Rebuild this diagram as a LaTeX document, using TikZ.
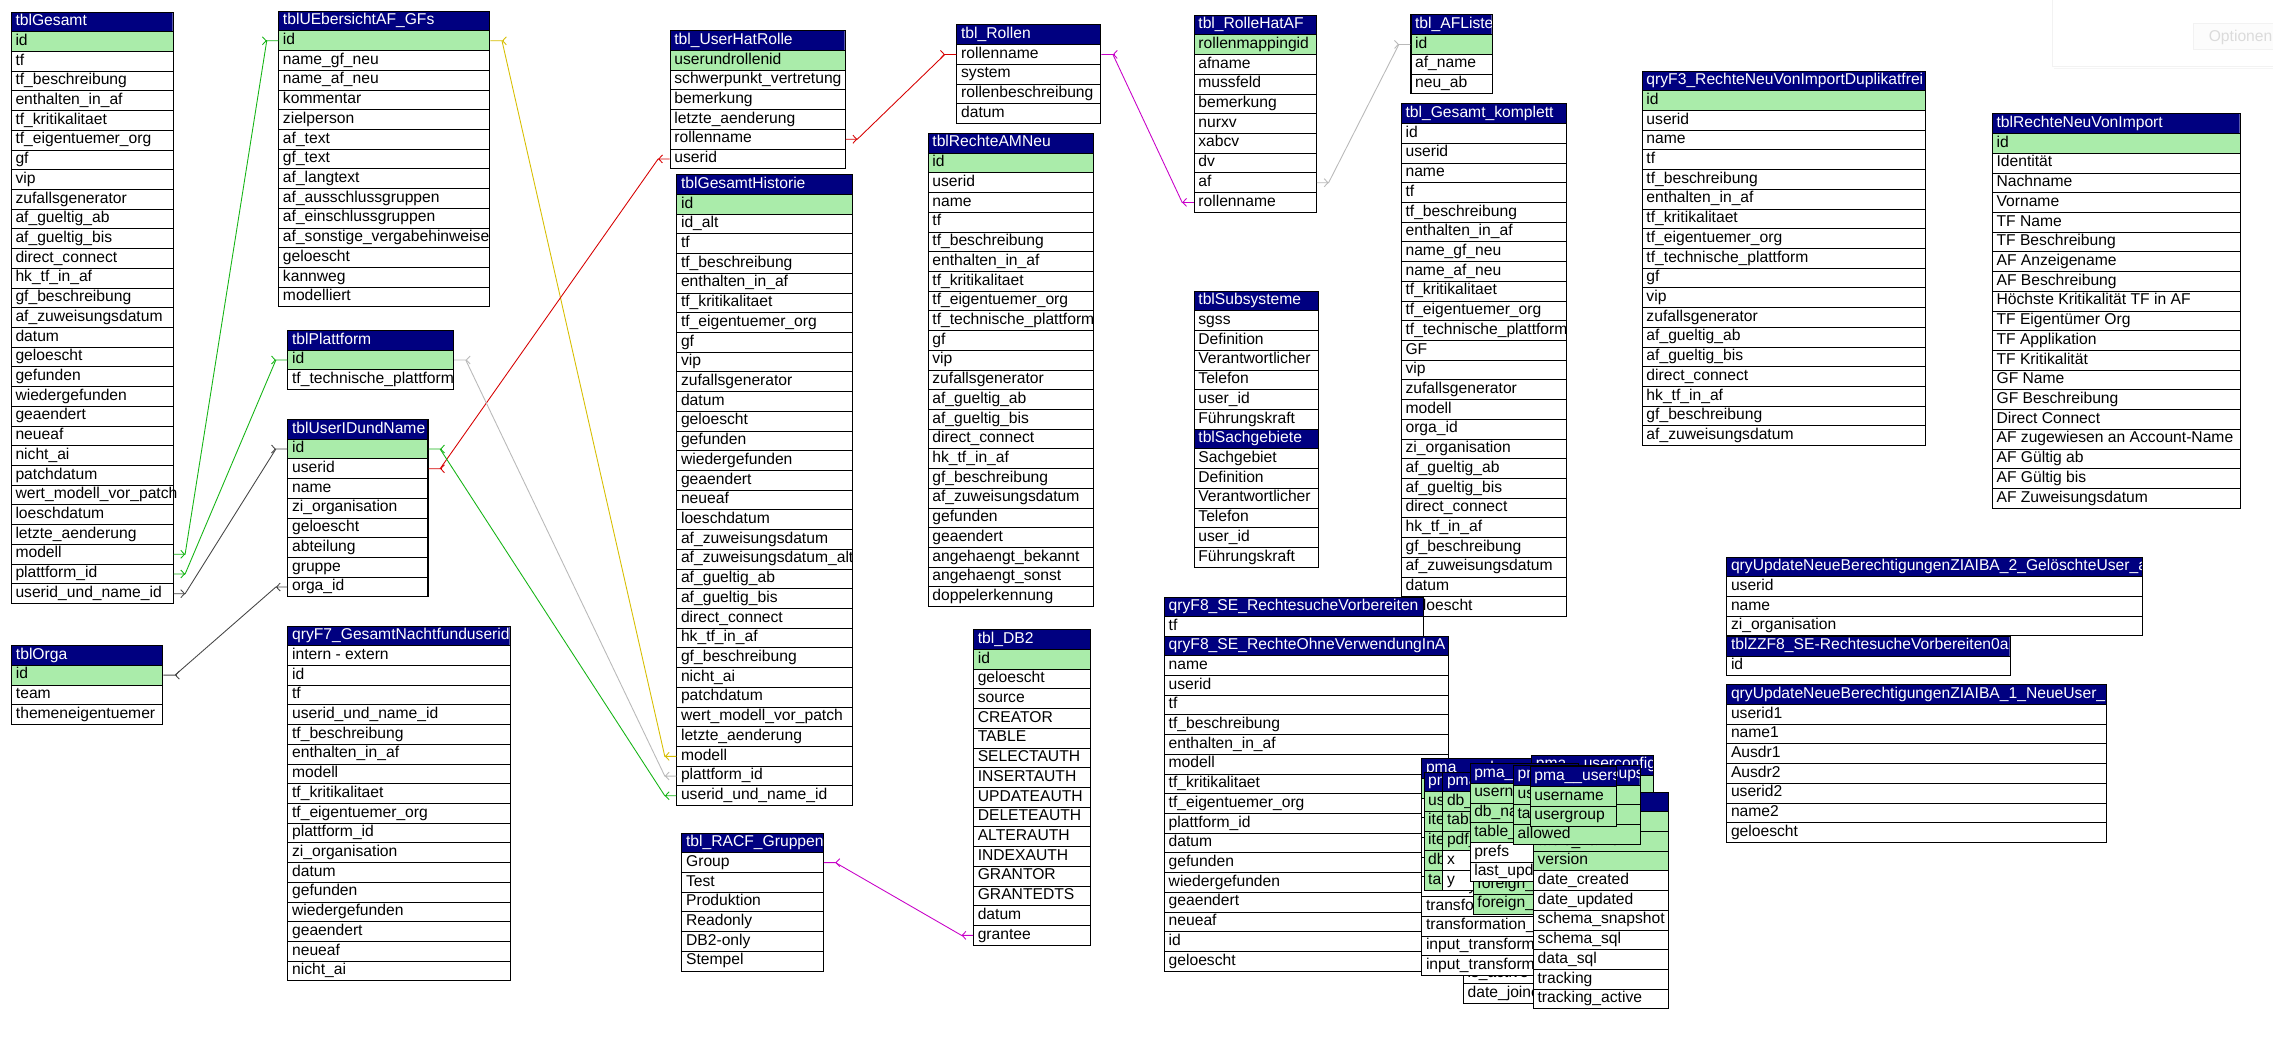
\documentclass[tikz,border=0pt]{standalone}
\usepackage{fontspec}
\setmainfont{Liberation Sans}
\usetikzlibrary{calc,arrows.meta}
\definecolor{hdr}{RGB}{0,0,128}
\definecolor{pk}{RGB}{170,236,170}
\definecolor{cgreen}{RGB}{20,180,20}
\definecolor{cdgrey}{RGB}{70,70,70}
\definecolor{cyellow}{RGB}{215,190,0}
\definecolor{cred}{RGB}{215,0,0}
\definecolor{clgrey}{RGB}{185,185,185}
\definecolor{cmag}{RGB}{200,0,200}
\tikzset{
  rowbox/.style={draw=black, line width=0.7pt, inner sep=0pt, minimum height=13.6pt, anchor=north west, fill=white},
  celltext/.style={inner sep=0pt, anchor=base west, font=\fontsize{10.8}{12}\selectfont, text=black},
  hdrtext/.style={celltext, text=white},
  link/.style={line width=0.6pt},
  chev/.style={line width=0.6pt, -{Straight Barb[length=2.6pt,width=5.5pt]}},
}
\newcommand\dbtab[7]{%
  \begin{scope}
    \clip (#2,-#3) rectangle ++(#4,-13.6);
    \fill[hdr] (#2,-#3) rectangle ++(#4,-13.6);
    \node[hdrtext] at (#2+3,-#3-9.7) {\detokenize{#5}};
  \end{scope}
  \node[rowbox, fill=none, minimum width=#4pt] (#1-0) at (#2,-#3) {};
  \foreach \rowtxt [count=\i] in {#7}{%
    \ifnum\i>#6\relax\def\rowfill{white}\else\def\rowfill{pk}\fi
    \node[rowbox, fill=\rowfill, minimum width=#4pt] (#1-\i) at (#2,-#3-\i*13.6) {};
    \node[celltext] at ($(#1-\i.north west)+(3,-9.7)$) {\expandafter\detokenize\expandafter{\rowtxt}};
  }%
}
\newcommand\conn[7]{%
  \draw[link,#1] (#2.#3) -- ++(#4*8,0) coordinate (cA) -- ($(#5.#6)+(#7*8,0)$) coordinate (cB) -- (#5.#6);
  \draw[chev,#1] ($(cA)-(#4*0.5,0)$) -- (cA);
  \draw[chev,#1] ($(cB)+(#7*0.5,0)$) -- (cB);
}
\begin{document}
\begin{tikzpicture}[x=1pt,y=1pt]
\useasboundingbox (0,0) rectangle (1568,-729.2);
\clip (0,0) rectangle (1568,-729.2);
\fill[white] (0,0) rectangle (1568,-729.2);
% top right options panel
\draw[gray!10, line width=0.8pt, fill=white] (1416,2) rectangle (1575,-46);
\draw[gray!8, line width=0.6pt] (1417,-47) -- (1575,-47);
\draw[gray!10, line width=0.6pt, fill=gray!2] (1513,-16) rectangle (1575,-34);
\node[celltext, text=gray!28] (opt) at (1523.5,-28.3) {Optionen};

\dbtab{gesamt}{7.5}{8.0}{111.5}{tblGesamt}{1}{id,tf,tf_beschreibung,enthalten_in_af,tf_kritikalitaet,tf_eigentuemer_org,gf,vip,zufallsgenerator,af_gueltig_ab,af_gueltig_bis,direct_connect,hk_tf_in_af,gf_beschreibung,af_zuweisungsdatum,datum,geloescht,gefunden,wiedergefunden,geaendert,neueaf,nicht_ai,patchdatum,wert_modell_vor_patch,loeschdatum,letzte_aenderung,modell,plattform_id,userid_und_name_id}
\dbtab{uebers}{192}{7.4}{145.6}{tblUEbersichtAF_GFs}{1}{id,name_gf_neu,name_af_neu,kommentar,zielperson,af_text,gf_text,af_langtext,af_ausschlussgruppen,af_einschlussgruppen,af_sonstige_vergabehinweise,geloescht,kannweg,modelliert}
\dbtab{plattform}{198.3}{227.6}{114.3}{tblPlattform}{1}{id,tf_technische_plattform}
\dbtab{useridn}{198.3}{289}{96.6}{tblUserIDundName}{1}{id,userid,name,zi_organisation,geloescht,abteilung,gruppe,orga_id}
\dbtab{orga}{7.8}{445}{104.2}{tblOrga}{1}{id,team,themeneigentuemer}
\dbtab{qf7}{198.3}{431.5}{153.2}{qryF7_GesamtNachtfunduserid}{0}{intern - extern,id,tf,userid_und_name_id,tf_beschreibung,enthalten_in_af,modell,tf_kritikalitaet,tf_eigentuemer_org,plattform_id,zi_organisation,datum,gefunden,wiedergefunden,geaendert,neueaf,nicht_ai}
\dbtab{uhr}{462}{20.9}{120.7}{tbl_UserHatRolle}{1}{userundrollenid,schwerpunkt_vertretung,bemerkung,letzte_aenderung,rollenname,userid}
\dbtab{hist}{466.6}{120.2}{121.3}{tblGesamtHistorie}{1}{id,id_alt,tf,tf_beschreibung,enthalten_in_af,tf_kritikalitaet,tf_eigentuemer_org,gf,vip,zufallsgenerator,datum,geloescht,gefunden,wiedergefunden,geaendert,neueaf,loeschdatum,af_zuweisungsdatum,af_zuweisungsdatum_alt,af_gueltig_ab,af_gueltig_bis,direct_connect,hk_tf_in_af,gf_beschreibung,nicht_ai,patchdatum,wert_modell_vor_patch,letzte_aenderung,modell,plattform_id,userid_und_name_id}
\dbtab{rollen}{659.8}{16.8}{99.2}{tbl_Rollen}{0}{rollenname,system,rollenbeschreibung,datum}
\dbtab{ramneu}{640}{91.7}{114}{tblRechteAMNeu}{1}{id,userid,name,tf,tf_beschreibung,enthalten_in_af,tf_kritikalitaet,tf_eigentuemer_org,tf_technische_plattform,gf,vip,zufallsgenerator,af_gueltig_ab,af_gueltig_bis,direct_connect,hk_tf_in_af,gf_beschreibung,af_zuweisungsdatum,gefunden,geaendert,angehaengt_bekannt,angehaengt_sonst,doppelerkennung}
\dbtab{db2}{671.3}{434.1}{80.9}{tbl_DB2}{1}{id,geloescht,source,CREATOR,TABLE,SELECTAUTH,INSERTAUTH,UPDATEAUTH,DELETEAUTH,ALTERAUTH,INDEXAUTH,GRANTOR,GRANTEDTS,datum,grantee}
\dbtab{racf}{470.1}{574.3}{97.5}{tbl_RACF_Gruppen}{0}{Group,Test,Produktion,Readonly,DB2-only,Stempel}
\dbtab{rhaf}{823.5}{10.1}{84.3}{tbl_RolleHatAF}{1}{rollenmappingid,afname,mussfeld,bemerkung,nurxv,xabcv,dv,af,rollenname}
\dbtab{afl}{973}{9.9}{56}{tbl_AFListe}{1}{id,af_name,neu_ab}
\dbtab{subs}{823.5}{200.5}{86}{tblSubsysteme}{0}{sgss,Definition,Verantwortlicher,Telefon,user_id,Führungskraft}
\dbtab{sach}{823.5}{295.7}{86}{tblSachgebiete}{0}{Sachgebiet,Definition,Verantwortlicher,Telefon,user_id,Führungskraft}
\dbtab{gk}{966.4}{71.3}{114.2}{tbl_Gesamt_komplett}{0}{id,userid,name,tf,tf_beschreibung,enthalten_in_af,name_gf_neu,name_af_neu,tf_kritikalitaet,tf_eigentuemer_org,tf_technische_plattform,GF,vip,zufallsgenerator,modell,orga_id,zi_organisation,af_gueltig_ab,af_gueltig_bis,direct_connect,hk_tf_in_af,gf_beschreibung,af_zuweisungsdatum,datum,geloescht}
\dbtab{qfa}{803}{411.5}{178.6}{qryF8_SE_RechtesucheVorbereiten}{0}{tf}
\dbtab{qfb}{803}{438.4}{196}{qryF8_SE_RechteOhneVerwendungInA}{0}{name,userid,tf,tf_beschreibung,enthalten_in_af,modell,tf_kritikalitaet,tf_eigentuemer_org,plattform_id,datum,gefunden,wiedergefunden,geaendert,neueaf,id,geloescht}
\dbtab{qf3}{1132.6}{48.7}{195.4}{qryF3_RechteNeuVonImportDuplikatfrei}{1}{id,userid,name,tf,tf_beschreibung,enthalten_in_af,tf_kritikalitaet,tf_eigentuemer_org,tf_technische_plattform,gf,vip,zufallsgenerator,af_gueltig_ab,af_gueltig_bis,direct_connect,hk_tf_in_af,gf_beschreibung,af_zuweisungsdatum}
\dbtab{rnvi}{1374.1}{78.2}{170.9}{tblRechteNeuVonImport}{1}{id,Identität,Nachname,Vorname,TF Name,TF Beschreibung,AF Anzeigename,AF Beschreibung,Höchste Kritikalität TF in AF,TF Eigentümer Org,TF Applikation,TF Kritikalität,GF Name,GF Beschreibung,Direct Connect,AF zugewiesen an Account-Name,AF Gültig ab,AF Gültig bis,AF Zuweisungsdatum}
\dbtab{qu2}{1190.9}{383.9}{286.8}{qryUpdateNeueBerechtigungenZIAIBA_2_GelöschteUser_a}{0}{userid,name,zi_organisation}
\dbtab{zz}{1190.9}{438.6}{195.4}{tblZZF8_SE-RechtesucheVorbereiten0a}{0}{id}
\dbtab{qu1}{1190.9}{472}{262.2}{qryUpdateNeueBerechtigungenZIAIBA_1_NeueUser_}{0}{userid1,name1,Ausdr1,Ausdr2,userid2,name2,geloescht}

% overlapping pma cluster
\dbtab{pa}{1009.2}{528.8}{66.7}{pma__users}{1}{id,password,last_login,is_superuser,username,first_name,last_name,email,is_staff,is_active,date_joined}
\dbtab{pb}{980.5}{523.0}{142.5}{pma__column_info}{1}{id,db_name,table_name,column_name,comment,mimetype,transformation,transformation_options,input_transformation,input_transformation_options}
\dbtab{pc}{1056.3}{520.7}{83.9}{pma__userconfig}{1}{username,timevalue,config_data}
\dbtab{pd}{982}{532.2}{80}{pma__navigationhiding}{5}{username,item_name,item_type,db_name,table_name}
\dbtab{pe}{995}{532.2}{70}{pma__table_coords}{3}{db_name,table_name,pdf_page_number,x,y}
\dbtab{pf}{1016}{535}{75}{pma__relation}{6}{master_db,master_table,master_field,foreign_db,foreign_table,foreign_field}
\dbtab{pg}{1013.8}{526.4}{75}{pma__table_uiprefs}{3}{username,db_name,table_name,prefs,last_update}
\dbtab{ph}{1057.5}{546}{93.1}{pma__tracking}{3}{db_name,table_name,version,date_created,date_updated,schema_snapshot,schema_sql,data_sql,tracking,tracking_active}
\dbtab{pi}{1043.7}{527.6}{87.3}{pma__usergroups}{3}{usergroup,tab,allowed}
\dbtab{pj}{1055.2}{528.7}{59.8}{pma__users}{2}{username,usergroup}

% connectors
\conn{cgreen}{gesamt-27}{east}{1}{uebers-1}{west}{-1}
\conn{cgreen}{gesamt-28}{east}{1}{plattform-1}{west}{-1}
\conn{cdgrey}{gesamt-29}{east}{1}{useridn-1}{west}{-1}
\conn{cdgrey}{useridn-8}{west}{-1}{orga-1}{east}{1}
\conn{cyellow}{hist-29}{west}{-1}{uebers-1}{east}{1}
\conn{cred}{uhr-6}{west}{-1}{useridn-2}{east}{1}
\conn{clgrey}{hist-30}{west}{-1}{plattform-1}{east}{1}
\conn{cgreen}{hist-31}{west}{-1}{useridn-1}{east}{1}
\conn{cred}{uhr-5}{east}{1}{rollen-1}{west}{-1}
\conn{cmag}{rhaf-9}{west}{-1}{rollen-1}{east}{1}
\conn{clgrey}{rhaf-8}{east}{1}{afl-1}{west}{-1}
\conn{cmag}{db2-15}{west}{-1}{racf-1}{east}{1}
\end{tikzpicture}
\end{document}
